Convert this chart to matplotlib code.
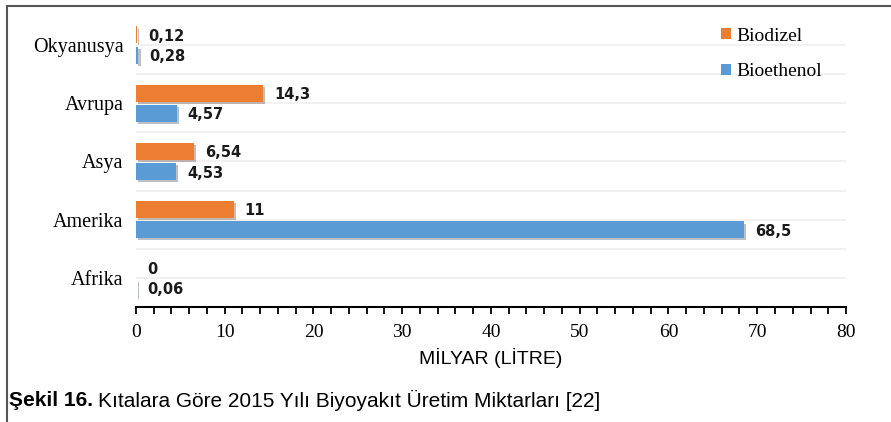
import matplotlib.pyplot as plt
import matplotlib.patheffects as pe
import numpy as np

regions = ['Afrika', 'Amerika', 'Asya', 'Avrupa', 'Okyanusya']
biodizel = [0, 11, 6.54, 14.3, 0.12]
bioethenol = [0.06, 68.5, 4.53, 4.57, 0.28]
series_names = ['Biodizel', 'Bioethenol']
xticks = [0, 10, 20, 30, 40, 50, 60, 70, 80]

fig = plt.figure(figsize=(8.91, 4.22), dpi=100)
ax = fig.add_axes([0.1526, 0.2725, 0.7969, 0.6896])

y = np.arange(len(regions))
h = 0.29
shadow = [pe.SimplePatchShadow(offset=(1.5, -1.5), alpha=0.3), pe.Normal()]
b1 = ax.barh(y + 0.175, biodizel, height=h, color='#ED7D31', zorder=3, label=series_names[0])
b2 = ax.barh(y - 0.175, bioethenol, height=h, color='#5B9BD5', zorder=3, label=series_names[1])
for b in list(b1) + list(b2):
    b.set_path_effects(shadow)

def lab(v):
    return ('%g' % v).replace('.', ',')

for bars, vals in [(b1, biodizel), (b2, bioethenol)]:
    for bar, v in zip(bars, vals):
        ax.annotate(lab(v), (v, bar.get_y() + bar.get_height() / 2),
                    xytext=(8, -1), textcoords='offset points',
                    ha='left', va='center', fontsize=10.5, fontweight='bold',
                    family='DejaVu Sans', color='#1a1a1a')

ax.set_xlim(0, 80)
ax.set_ylim(-0.5, 4.5)
for g in np.arange(0, 4.01, 0.5):
    ax.axhline(g, color='#efefef', lw=1.2, zorder=0)

ax.set_yticks(y)
ax.set_yticklabels(regions, family='Liberation Serif', fontsize=14.5)
ax.tick_params(axis='y', length=0, pad=9)
ax.set_xticks(xticks)
ax.set_xticklabels([str(t) for t in xticks], family='Liberation Serif', fontsize=14)
ax.set_xticks(np.arange(0, 81, 2), minor=True)
ax.tick_params(axis='x', which='both', direction='out', length=5, width=1.3, color='black', pad=7)

for s in ['top', 'right', 'left']:
    ax.spines[s].set_visible(False)
ax.spines['bottom'].set_linewidth(1.5)

ax.set_xlabel('MİLYAR (LİTRE)', family='Liberation Sans', fontsize=14, labelpad=5)

leg = ax.legend(handles=[b1, b2], loc='upper left', bbox_to_anchor=(0.8, 1.02), frameon=False,
                prop={'family': 'Liberation Serif', 'size': 14},
                handlelength=0.5, handleheight=0.5, handletextpad=0.25, labelspacing=0.95)
for hnd in leg.legend_handles:
    hnd.set_path_effects([])

# cerceve
fig.add_artist(plt.Line2D([7 / 891, 7 / 891], [0, 1 - 6 / 422], color='#555555', lw=1.5))
fig.add_artist(plt.Line2D([7 / 891, 1], [1 - 6 / 422, 1 - 6 / 422], color='#555555', lw=1.5))

t1 = fig.text(9 / 891, 1 - 400 / 422, 'Şekil 16.', family='Liberation Sans',
              fontweight='bold', fontsize=15, va='center')
fig.canvas.draw()
bb = t1.get_window_extent()
fig.text((bb.x1 + 5) / 891, 1 - 400 / 422, 'Kıtalara Göre 2015 Yılı Biyoyakıt Üretim Miktarları [22]',
         family='Liberation Sans', fontsize=15, va='center')

fig.savefig('out.png', dpi=100)
